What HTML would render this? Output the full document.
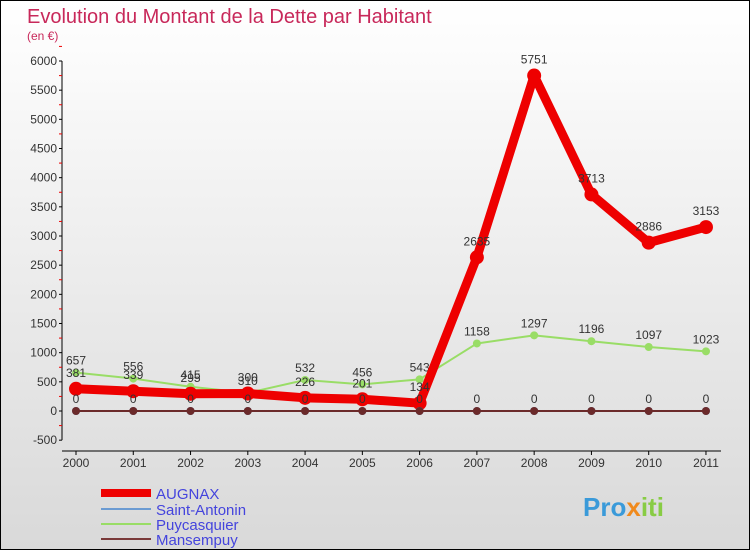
<!DOCTYPE html>
<html><head><meta charset="utf-8"><style>
body{margin:0}
#c{width:748px;height:548px;border:1px solid #000;background:linear-gradient(#fff,#d9d9d9);position:relative;overflow:hidden;font-family:"Liberation Sans",sans-serif}
</style></head><body>
<div id="c">
<svg id="s" width="748" height="548" xmlns="http://www.w3.org/2000/svg">
<text x="26" y="22" font-size="20" fill="#c8285a">Evolution du Montant de la Dette par Habitant</text>
<text x="26" y="39" font-size="12" fill="#c8285a">(en €)</text>
<g id="axes"></g><g id="series"></g>
<g font-size="15">
<line x1="100" y1="492" x2="150" y2="492" stroke="#e00" stroke-width="8"/><text x="155" y="498" fill="#4444dd">AUGNAX</text>
<line x1="100" y1="508" x2="150" y2="508" stroke="#6b9bd2" stroke-width="2"/><text x="155" y="514" fill="#4444dd">Saint-Antonin</text>
<line x1="100" y1="523" x2="150" y2="523" stroke="#99dd66" stroke-width="2"/><text x="155" y="529" fill="#4444dd">Puycasquier</text>
<line x1="100" y1="538" x2="150" y2="538" stroke="#7a3a3a" stroke-width="2"/><text x="155" y="544" fill="#4444dd">Mansempuy</text>
</g>
<text x="582" y="515" font-size="26" font-weight="bold" fill="#3a9ad9">Pro<tspan fill="#f08a1c">x</tspan><tspan fill="#8c4">iti</tspan></text>
</svg></div>
<script>
const years=[2000,2001,2002,2003,2004,2005,2006,2007,2008,2009,2010,2011];
const augnax=[381,339,295,300,226,201,134,2635,5751,3713,2886,3153];
const saintAntonin=[0,0,0,0,0,0,0,0,0,0,0,0];
const puycasquier=[657,556,415,310,532,456,543,1158,1297,1196,1097,1023];
const mansempuy=[0,0,0,0,0,0,0,0,0,0,0,0];
const yTicks=[-500,0,500,1000,1500,2000,2500,3000,3500,4000,4500,5000,5500,6000];
const NS="http://www.w3.org/2000/svg";
const X=i=>75+i*57.27, Y=v=>410-v*(350/6000);
function mk(t,a,p){const e=document.createElementNS(NS,t);for(const k in a)e.setAttribute(k,a[k]);p.appendChild(e);return e;}
const ax=document.getElementById('axes'), sg=document.getElementById('series');
const yl=mk('line',{x1:61,y1:Y(6000),x2:61,y2:Y(-500),stroke:'#000'},ax);


const xl=mk('line',{x1:61,y1:450,x2:720,y2:450,stroke:'#000'},ax);


yTicks.forEach(v=>{mk('line',{x1:58,y1:Y(v),x2:61,y2:Y(v),stroke:'#000'},ax);
mk('line',{x1:58,y1:Y(v+250),x2:61,y2:Y(v+250),stroke:'#e00'},ax);
const t=mk('text',{x:56,y:Y(v)+4,'font-size':12,'text-anchor':'end',fill:'#333'},ax);t.textContent=v;

});
years.forEach((y,i)=>{mk('line',{x1:X(i),y1:450,x2:X(i),y2:454,stroke:'#000'},ax);
const t=mk('text',{x:X(i),y:466,'font-size':12,'text-anchor':'middle',fill:'#333'},ax);t.textContent=y;

});
function draw(d,col,w,r,name,dy){
const g=mk('g',{},sg);


mk('polyline',{points:d.map((v,i)=>X(i)+','+Y(v)).join(' '),fill:'none',stroke:col,'stroke-width':w,'stroke-linejoin':'round'},g);
d.forEach((v,i)=>{mk('circle',{cx:X(i),cy:Y(v),r:r,fill:col},g);
if(dy!==null){const t=mk('text',{x:X(i),y:Y(v)-dy,'font-size':12,'text-anchor':'middle',fill:'#333'},g);t.textContent=v;}});}
draw(puycasquier,'#99dd66',2,4,'series-puycasquier',8);
draw(augnax,'#ee0000',9,7,'series-augnax',12);
draw(saintAntonin,'#6b9bd2',2,4,'series-saint-antonin',8);
draw(mansempuy,'#6b2a2a',2,4,'series-mansempuy',null);
</script>
</body></html>
